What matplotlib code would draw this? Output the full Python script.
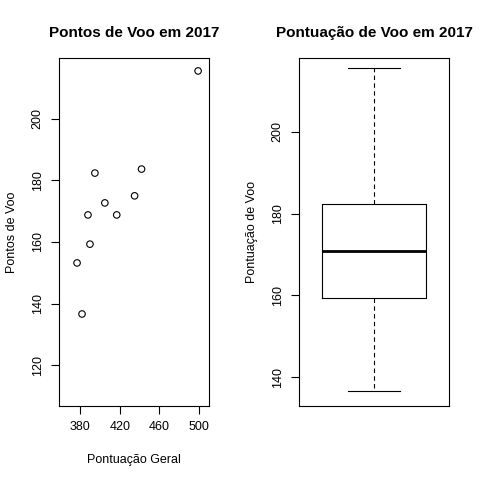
import matplotlib
matplotlib.use("Agg")
import matplotlib.pyplot as plt
import numpy as np

plt.rcParams['font.family'] = ['Liberation Sans', 'DejaVu Sans']

pontuacao_geral = [377, 382, 388, 390, 395, 405, 417, 435, 442, 499]
pontos_voo = [153.2, 136.6, 168.8, 159.3, 182.4, 172.7, 168.8, 175.0, 183.7, 215.6]

fig = plt.figure(figsize=(4.8, 4.8), dpi=100)
W = H = 480.0

def box(x0, y0, x1, y1):
    return [x0 / W, 1 - y1 / H, (x1 - x0) / W, (y1 - y0) / H]

ax1 = fig.add_axes(box(59, 58, 209, 406))
ax1.scatter(pontuacao_geral, pontos_voo, s=22, facecolors='none', edgecolors='black', linewidths=0.8)
ax1.set_xlim(358.8, 510)
ax1.set_ylim(106.7, 219.8)
ax1.set_xticks([380, 420, 460, 500])
ax1.set_yticks([120, 140, 160, 180, 200])
ax1.set_title('Pontos de Voo em 2017', fontsize=11, fontweight='bold', pad=15)
ax1.set_xlabel('Pontuação Geral', fontsize=9, labelpad=15)
ax1.set_ylabel('Pontos de Voo', fontsize=9, labelpad=10)

ax2 = fig.add_axes(box(299, 58, 449, 406))
y = np.sort(pontos_voo)
n = len(y)
lower = np.median(y[:(n + 1) // 2])
upper = np.median(y[n // 2:])
stats = [dict(med=np.median(y), q1=lower, q3=upper, whislo=y.min(), whishi=y.max(), fliers=[])]
ax2.bxp(stats, positions=[1], widths=0.75,
        boxprops=dict(color='black', linewidth=0.8),
        medianprops=dict(color='black', linewidth=2),
        whiskerprops=dict(color='black', linewidth=0.8, linestyle=(0, (4, 3))),
        capprops=dict(color='black', linewidth=0.8), capwidths=0.38)
ax2.set_xlim(0.46, 1.54)
ax2.set_ylim(132.9, 218.1)
ax2.set_xticks([])
ax2.set_yticks([140, 160, 180, 200])
ax2.set_title('Pontuação de Voo em 2017', fontsize=11, fontweight='bold', pad=15)
ax2.set_ylabel('Pontuação de Voo', fontsize=9, labelpad=10)

for ax in (ax1, ax2):
    ax.tick_params(labelsize=9, width=0.8, length=6, pad=5)
    for lab in ax.get_yticklabels():
        lab.set_rotation(90)
        lab.set_va('center')
    for s in ax.spines.values():
        s.set_linewidth(0.8)

fig.savefig('out.png', dpi=100)
